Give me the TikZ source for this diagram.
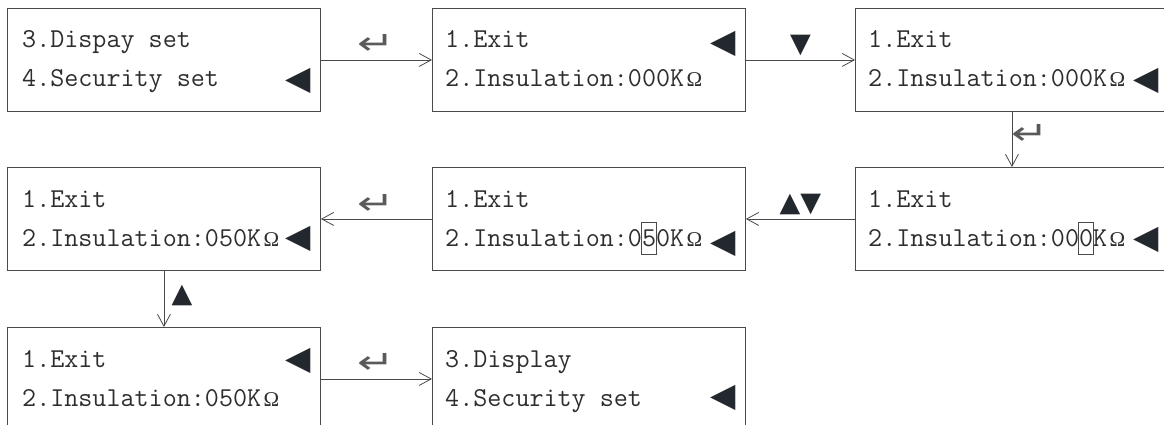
\documentclass[tikz,border=0pt]{standalone}
\usepackage{fontspec}
\newfontfamily\symfont{DejaVu Sans}
\newfontfamily\ohmfont{Liberation Serif}
\usetikzlibrary{arrows.meta,calc}
\definecolor{linec}{HTML}{4A4A4A}
\definecolor{textc}{HTML}{2E2E2E}
\definecolor{tric}{HTML}{22282E}
\definecolor{retc}{HTML}{5A5A5A}
\newcommand\ohm{\hspace{2.5pt}{\ohmfont\fontsize{21}{21}\selectfont Ω}}
\newcommand\enterkey{\scalebox{1.4}[1.0]{↵}}
\begin{document}
\begin{tikzpicture}[x=1pt,y=-1pt,
  screen/.style={draw=linec, line width=0.9pt, minimum width=313pt, minimum height=103pt, inner sep=0pt, anchor=north west},
  txt/.style={anchor=base west, inner sep=0pt, font=\ttfamily\fontsize{27.3}{30}\selectfont, text=textc},
  ptr/.style={anchor=east, inner sep=0pt, font=\symfont\fontsize{33}{33}\selectfont, text=tric},
  conn/.style={draw=linec, line width=0.8pt, -{Straight Barb[length=12pt,width=13pt,line width=0.8pt]}},
  lab/.style={inner sep=0pt, font=\symfont\fontsize{27}{27}\selectfont, text=tric},
  rlab/.style={inner sep=0pt, font=\symfont\fontsize{32}{32}\selectfont, text=retc},
  hl/.style={draw=linec, line width=0.6pt}]
\useasboundingbox (0,0) rectangle (1164,425);
\fill[white] (0,0) rectangle (1164,425);
\clip (0,0) rectangle (1164,425);
% screens
\node[screen] (b1) at (7,8) {};
\node[screen] (b2) at (432,8) {};
\node[screen] (b3) at (855,8) {};
\node[screen] (b4) at (855,167) {};
\node[screen] (b5) at (432,167) {};
\node[screen] (b6) at (7,167) {};
\node[screen] (b7) at (7,327) {};
\node[screen] (b8) at (432,327) {};
% texts
\node[txt] (t1a) at ($(b1.north west)+(15,40)$) {3.Dispay set};
\node[txt] (t1b) at ($(b1.north west)+(15,79)$) {4.Security set};
\node[ptr] (p1) at ($(b1.north east)+(-10,73)$) {◀};
\node[txt] (t2a) at ($(b2.north west)+(13,40)$) {1.Exit};
\node[txt] (t2b) at ($(b2.north west)+(13,79)$) {2.Insulation:000K\ohm};
\node[ptr] (p2) at ($(b2.north east)+(-10,36)$) {◀};
\node[txt] (t3a) at ($(b3.north west)+(13,40)$) {1.Exit};
\node[txt] (t3b) at ($(b3.north west)+(13,79)$) {2.Insulation:000K\ohm};
\node[ptr] (p3) at ($(b3.north east)+(-10,73)$) {◀};
\node[txt] (t4a) at ($(b4.north west)+(13,40)$) {1.Exit};
\node[txt] (t4b) at ($(b4.north west)+(13,79)$) {2.Insulation:000K\ohm};
\node[ptr] (p4) at ($(b4.north east)+(-10,73)$) {◀};
\draw[hl] ($(b4.north west)+(223,55)$) rectangle ++(15,32);
\node[txt] (t5a) at ($(b5.north west)+(13,40)$) {1.Exit};
\node[txt] (t5b) at ($(b5.north west)+(13,79)$) {2.Insulation:050K\ohm};
\node[ptr] (p5) at ($(b5.north east)+(-10,77)$) {◀};
\draw[hl] ($(b5.north west)+(209,55)$) rectangle ++(15,32);
\node[txt] (t6a) at ($(b6.north west)+(15,40)$) {1.Exit};
\node[txt] (t6b) at ($(b6.north west)+(15,79)$) {2.Insulation:050K\ohm};
\node[ptr] (p6) at ($(b6.north east)+(-10,72)$) {◀};
\node[txt] (t7a) at ($(b7.north west)+(15,40)$) {1.Exit};
\node[txt] (t7b) at ($(b7.north west)+(15,79)$) {2.Insulation:050K\ohm};
\node[ptr] (p7) at ($(b7.north east)+(-10,34)$) {◀};
\node[txt] (t8a) at ($(b8.north west)+(13,40)$) {3.Display};
\node[txt] (t8b) at ($(b8.north west)+(13,79)$) {4.Security set};
\node[ptr] (p8) at ($(b8.north east)+(-10,71)$) {◀};
% connectors
\draw[conn] (b1.east) -- node[rlab, yshift=15pt] (l1) {\enterkey} (b2.west);
\draw[conn] (b2.east) -- node[lab, yshift=14.5pt] (l2) {▼} (b3.west);
\draw[conn] (b3.south) -- node[rlab, xshift=18pt, yshift=4.5pt] (l3) {\enterkey} (b4.north);
\draw[conn] (b4.west) -- node[lab, yshift=14pt] (l4) {▲▼} (b5.east);
\draw[conn] (b5.west) -- node[rlab, yshift=14pt] (l5) {\enterkey} (b6.east);
\draw[conn] (b6.south) -- node[lab, xshift=18pt, yshift=3pt] (l6) {▲} (b7.north);
\draw[conn] (b7.east) -- node[rlab, yshift=15.5pt] (l7) {\enterkey} (b8.west);
\end{tikzpicture}
\end{document}
